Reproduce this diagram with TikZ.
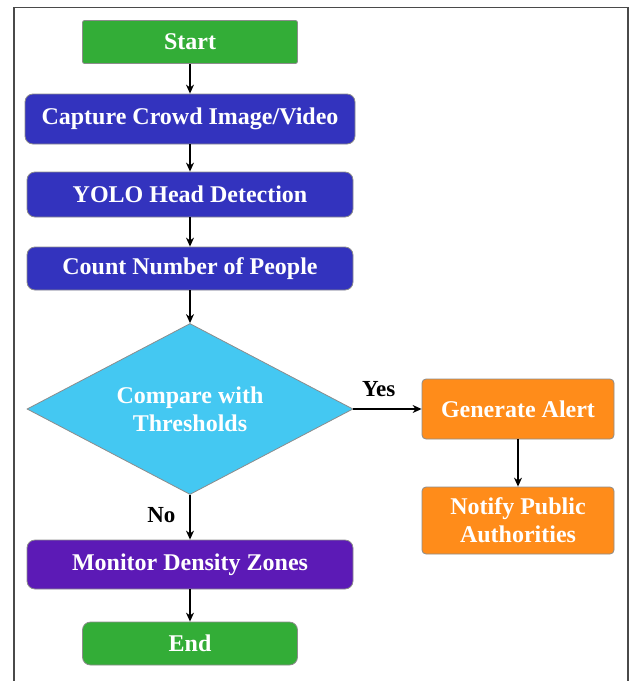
\documentclass[tikz,border=0pt]{standalone}
\usepackage{fontspec}
\setmainfont{Liberation Serif}
\usetikzlibrary{shapes.geometric,arrows.meta}
\definecolor{startgreen}{HTML}{33AD37}
\definecolor{stepblue}{HTML}{3333BE}
\definecolor{checkcyan}{HTML}{44C8F2}
\definecolor{alertorange}{HTML}{FF8C1A}
\definecolor{zonepurple}{HTML}{5C1AB6}
\definecolor{edgegray}{HTML}{8C8C8C}
\definecolor{framegray}{HTML}{4A4A4A}

\begin{document}
\begin{tikzpicture}[x=1pt,y=-1pt,
    box/.style={draw=edgegray, line width=0.8pt, text=white, inner sep=0pt, align=center,
        font=\bfseries\fontsize{24}{28}\selectfont},
    terminal/.style={box, fill=startgreen, minimum width=215pt, minimum height=43pt, rounded corners=8pt},
    process/.style={box, fill=stepblue, minimum width=326pt, minimum height=45pt, rounded corners=8pt},
    decision/.style={box, diamond, aspect=1.9, fill=checkcyan, minimum width=326pt, minimum height=171pt},
    action/.style={box, fill=alertorange, minimum width=192pt, rounded corners=4pt},
    arrow/.style={-{Stealth[length=9pt,width=8pt]}, line width=1.2pt},
    answer/.style={font=\bfseries\fontsize{23}{26}\selectfont, inner sep=0pt}]
    \useasboundingbox (0,0) rectangle (629,681);
    \draw[framegray, line width=1.6pt] (14,7.5) rectangle (628,700);
    %
    \draw
    (190,42)node(start)[terminal, rounded corners=2pt]{Start}
    (190,119)node(capture)[process, minimum width=330pt, minimum height=50pt]{Capture Crowd Image/Video}
    (190,194.5)node(yolo)[process]{YOLO Head Detection}
    (190,268.5)node(count)[process, minimum height=43pt]{Count Number of People}
    (190,409)node(compare)[decision]{Compare with\\Thresholds}
    (518,409)node(alert)[action, minimum height=60pt]{Generate Alert}
    (518,520.5)node(notify)[action, minimum height=67pt]{Notify Public\\Authorities}
    (190,564.5)node(monitor)[process, fill=zonepurple, minimum height=49pt]{Monitor Density Zones}
    (190,643.5)node(stop)[terminal]{End};
    %
    \draw[arrow] (start)--(capture);
    \draw[arrow] (capture)--(yolo);
    \draw[arrow] (yolo)--(count);
    \draw[arrow] (count)--(compare);
    \draw[arrow] (compare)--node[answer, pos=.37, above=12pt]{Yes}(alert);
    \draw[arrow] (alert)--(notify);
    \draw[arrow] (compare)--node[answer, pos=.46, left=14pt]{No}(monitor);
    \draw[arrow] (monitor)--(stop);
\end{tikzpicture}
\end{document}
